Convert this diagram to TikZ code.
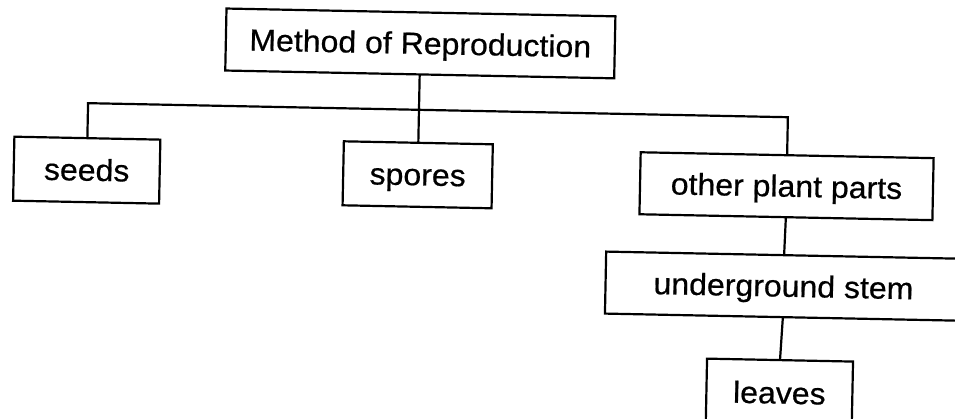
\documentclass[tikz,border=0pt]{standalone}
\usepackage{fontspec}
\setmainfont{Liberation Sans}[FakeStretch=1.05,FakeBold=0.6]
\usetikzlibrary{calc}
\begin{document}
\begin{tikzpicture}[x=1pt,y=-1pt,
  box/.style={draw, line width=2.2pt, inner sep=0pt, outer sep=0pt,
    font=\fontsize{30.5}{34}\selectfont, text height=23pt, text depth=2pt},
  link/.style={line width=2.2pt}]
\useasboundingbox (0,0) rectangle (955,419);
\clip (0,0) rectangle (955,419);
\begin{scope}[rotate around={-1.15:(477,210)}, transform shape]
  \node[box, minimum width=389pt, minimum height=62pt] (top) at (417,44.6) {Method of Reproduction};
  \node[box, minimum width=146pt, minimum height=64pt] (seeds) at (86,178) {seeds};
  \node[box, minimum width=149pt, minimum height=64pt] (spores) at (417,176) {spores};
  \node[box, minimum width=293pt, minimum height=62pt] (other) at (786,180) {other plant parts};
  \node[box, minimum width=356pt, minimum height=62pt] (under) at (785,280) {underground stem};
  \node[box, minimum width=146pt, minimum height=66pt] (leaves) at (783,387) {leaves};
  \coordinate (busy) at (0,111);
  \draw[link] (top.south) -- (spores.north);
  \draw[link] (seeds.north) -- (seeds.north |- busy) -- (other.north |- busy) -- (other.north);
  \draw[link] (other.south) -- (under.north);
  \draw[link] (under.south) -- (leaves.north);
\end{scope}
\end{tikzpicture}
\end{document}
